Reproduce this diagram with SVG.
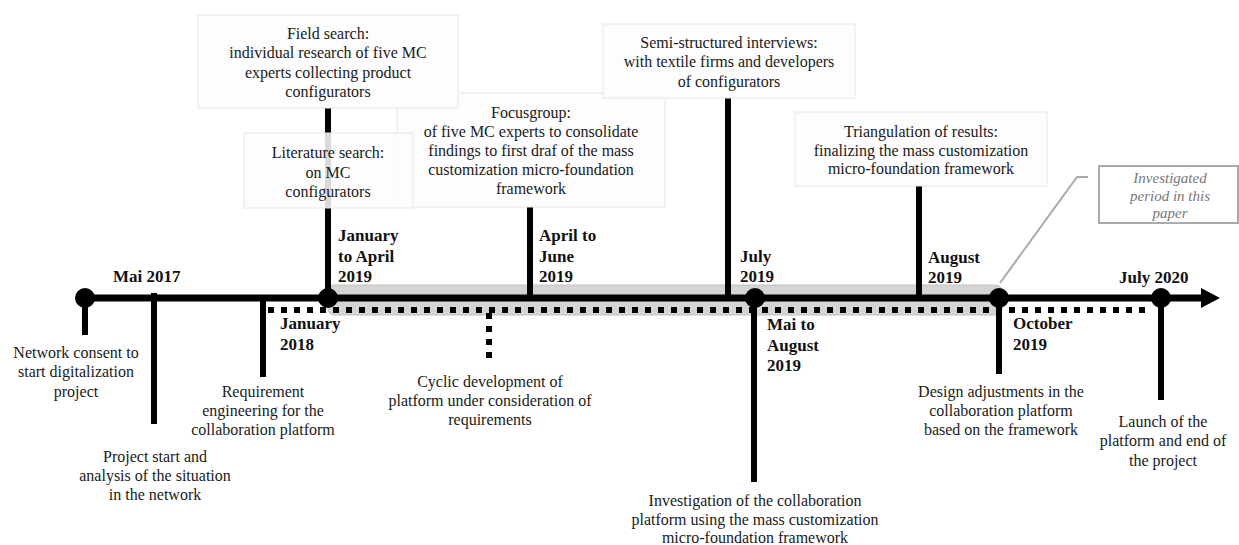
<svg xmlns="http://www.w3.org/2000/svg" width="1239" height="545" viewBox="0 0 1239 545">
<style>
.t{font-family:"Liberation Serif","Times New Roman",serif;font-size:16px;fill:#1a1a1a;text-anchor:middle}
.b{font-family:"Liberation Serif","Times New Roman",serif;font-size:17px;font-weight:bold;fill:#111}
.i{font-family:"Liberation Serif","Times New Roman",serif;font-size:15px;font-style:italic;fill:#777;text-anchor:middle}
.box{fill:#fdfdfd;stroke:#e6e6e6;stroke-width:1}
.tick{stroke:#000;stroke-width:6;fill:none}
.dot{stroke:#000;stroke-width:6;stroke-dasharray:6 7;fill:none}
</style>
<rect width="1239" height="545" fill="#fff"/>
<g id="connectors">
  <rect x="328" y="285" width="674" height="30" rx="6" fill="#d4d4d4" stroke="#c2c2c2" stroke-width="1"/>
  <line x1="85" y1="298" x2="1203" y2="298" stroke="#000" stroke-width="7"/>
  <polygon points="1201,288 1220,298 1201,308" fill="#000"/>
  <line class="dot" x1="268" y1="310" x2="1152" y2="310"/>
  <line class="dot" x1="489" y1="313" x2="489" y2="363"/>
  <line class="tick" x1="85" y1="298" x2="85" y2="335"/>
  <line class="tick" x1="154" y1="293" x2="154" y2="424"/>
  <line class="tick" x1="263" y1="298" x2="263" y2="377"/>
  <line class="tick" x1="328" y1="108" x2="328" y2="298"/>
  <line class="tick" x1="530" y1="207" x2="530" y2="298"/>
  <line class="tick" x1="728" y1="98" x2="728" y2="298"/>
  <line class="tick" x1="919" y1="186" x2="919" y2="298"/>
  <line class="tick" x1="754" y1="298" x2="754" y2="482"/>
  <line class="tick" x1="999" y1="298" x2="999" y2="374"/>
  <line class="tick" x1="1161" y1="298" x2="1161" y2="400"/>
  <circle cx="85" cy="298" r="10" fill="#000"/>
  <circle cx="328" cy="298" r="10" fill="#000"/>
  <circle cx="755" cy="298" r="10" fill="#000"/>
  <circle cx="999" cy="298" r="10" fill="#000"/>
  <circle cx="1161" cy="298" r="10" fill="#000"/>
  <polyline points="1000,283 1077,177 1088,177" fill="none" stroke="#aaa" stroke-width="2"/>
</g>
<g id="focusgroup">
  <rect class="box" x="397" y="93" width="268" height="114"/>
  <text class="t" x="531" y="117.5">Focusgroup:</text>
  <text class="t" x="531" y="137">of five MC experts to consolidate</text>
  <text class="t" x="531" y="156">findings to first draf of the mass</text>
  <text class="t" x="531" y="175">customization micro-foundation</text>
  <text class="t" x="531" y="194">framework</text>
</g>
<g id="field-search">
  <rect class="box" x="198" y="15" width="260" height="93"/>
  <text class="t" x="328" y="38.5">Field search:</text>
  <text class="t" x="328" y="58">individual research of five MC</text>
  <text class="t" x="328" y="77.5">experts collecting product</text>
  <text class="t" x="328" y="97">configurators</text>
</g>
<g id="literature-search">
  <rect x="244" y="133" width="169" height="75" fill="#fdfdfd" fill-opacity="0.86" stroke="#e6e6e6" stroke-width="1"/>
  <text class="t" x="328" y="158">Literature search:</text>
  <text class="t" x="328" y="178">on MC</text>
  <text class="t" x="328" y="197">configurators</text>
</g>
<g id="semi-structured">
  <rect class="box" x="603" y="24" width="252" height="74"/>
  <text class="t" x="729" y="48">Semi-structured interviews:</text>
  <text class="t" x="729" y="67">with textile firms and developers</text>
  <text class="t" x="729" y="87">of configurators</text>
</g>
<g id="triangulation">
  <rect class="box" x="795" y="112" width="252" height="74"/>
  <text class="t" x="921" y="137">Triangulation of results:</text>
  <text class="t" x="921" y="155.5">finalizing the mass customization</text>
  <text class="t" x="921" y="174">micro-foundation framework</text>
</g>
<g id="callout">
  <rect x="1099" y="166" width="139" height="57" fill="#fff" stroke="#aaa" stroke-width="2"/>
  <text class="i" x="1170" y="183">Investigated</text>
  <text class="i" x="1170" y="201">period in this</text>
  <text class="i" x="1170" y="218">paper</text>
</g>
<g id="date-labels">
  <text class="b" x="113" y="282">Mai 2017</text>
  <text class="b" x="338" y="241">January</text>
  <text class="b" x="338" y="262">to April</text>
  <text class="b" x="338" y="282">2019</text>
  <text class="b" x="539" y="241">April to</text>
  <text class="b" x="539" y="262">June</text>
  <text class="b" x="539" y="282">2019</text>
  <text class="b" x="740" y="262">July</text>
  <text class="b" x="740" y="282">2019</text>
  <text class="b" x="928" y="263">August</text>
  <text class="b" x="928" y="283">2019</text>
  <text class="b" x="1119" y="283">July 2020</text>
  <text class="b" x="280" y="329">January</text>
  <text class="b" x="280" y="350">2018</text>
  <text class="b" x="767" y="330">Mai to</text>
  <text class="b" x="767" y="351">August</text>
  <text class="b" x="767" y="371">2019</text>
  <text class="b" x="1013" y="329">October</text>
  <text class="b" x="1013" y="350">2019</text>
</g>
<g id="network-consent">
  <text class="t" x="76" y="357.5">Network consent to</text>
  <text class="t" x="76" y="376.5">start digitalization</text>
  <text class="t" x="76" y="396.5">project</text>
</g>
<g id="project-start">
  <text class="t" x="155" y="461.5">Project start and</text>
  <text class="t" x="155" y="480.5">analysis of the situation</text>
  <text class="t" x="155" y="499.5">in the network</text>
</g>
<g id="requirement">
  <text class="t" x="263" y="396.5">Requirement</text>
  <text class="t" x="263" y="415.5">engineering for the</text>
  <text class="t" x="263" y="434.5">collaboration platform</text>
</g>
<g id="cyclic">
  <text class="t" x="490" y="386.5">Cyclic development of</text>
  <text class="t" x="490" y="405.5">platform under consideration of</text>
  <text class="t" x="490" y="425">requirements</text>
</g>
<g id="investigation">
  <text class="t" x="755" y="505.5">Investigation of the collaboration</text>
  <text class="t" x="755" y="525">platform using the mass customization</text>
  <text class="t" x="755" y="543">micro-foundation framework</text>
</g>
<g id="design-adjustments">
  <text class="t" x="1001" y="396.5">Design adjustments in the</text>
  <text class="t" x="1001" y="415.5">collaboration platform</text>
  <text class="t" x="1001" y="434.5">based on the framework</text>
</g>
<g id="launch">
  <text class="t" x="1163" y="426.5">Launch of the</text>
  <text class="t" x="1163" y="446">platform and end of</text>
  <text class="t" x="1163" y="465.5">the project</text>
</g>
</svg>
